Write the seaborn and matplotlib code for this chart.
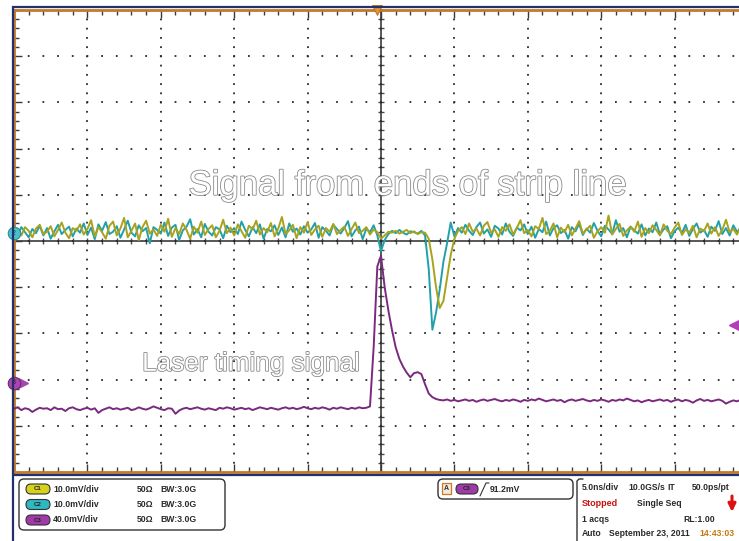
import numpy as np
import pandas as pd
import matplotlib
matplotlib.use("Agg")
import matplotlib.pyplot as plt
import seaborn as sns
from matplotlib.patches import FancyBboxPatch
from matplotlib.ticker import MultipleLocator
import matplotlib.patheffects as pe
import matplotlib.transforms as mtransforms

T_START, T_STOP, N_SAMPLES = -25.0, 25.0, 201   # ns, 5.0 ns/div, 10 div

c1_div = [
    0.18, 0.25, 0.12, 0.30, 0.22, 0.08, 0.27, 0.35, 0.15, 0.20, 0.32, 0.10, 0.24, 0.40, 0.18, 0.06, 0.28, 0.22, 0.36, 0.14,
    0.26, 0.45, 0.10, 0.30, 0.19, 0.05, 0.33, 0.42, 0.12, 0.27, 0.50, 0.08, 0.22, 0.38, 0.02, 0.30, 0.44, 0.16, 0.25, 0.11,
    0.35, 0.20, 0.48, 0.09, 0.28, 0.15, 0.38, 0.24, 0.05, 0.31, 0.18, 0.42, 0.13, 0.26, 0.34, 0.08, 0.22, 0.46, 0.17, 0.29,
    0.12, 0.36, 0.21, 0.07, 0.33, 0.25, 0.44, 0.14, 0.28, 0.19, 0.39, 0.10, 0.27, 0.52, 0.15, 0.23, 0.35, 0.06, 0.30, 0.18,
    0.41, 0.13, 0.25, 0.33, 0.09, 0.28, 0.20, 0.37, 0.15, 0.24, 0.31, 0.11, 0.26, 0.40, 0.17, 0.22, 0.30, 0.14, 0.25, 0.19,
    0.05, 0.12, 0.20, 0.18, 0.22, 0.16, 0.20, 0.24, 0.17, 0.21, 0.15, 0.19, 0.18, 0.05, -0.40, -1.00, -1.45, -1.30, -0.80, -0.30,
    0.05, 0.22, 0.30, 0.15, 0.38, 0.20, 0.27, 0.12, 0.33, 0.41, 0.18, 0.25, 0.09, 0.30, 0.22, 0.36, 0.14, 0.28, 0.45, 0.17,
    0.24, 0.10, 0.32, 0.26, 0.50, 0.15, 0.22, 0.38, 0.08, 0.29, 0.19, 0.35, 0.12, 0.27, 0.43, 0.16, 0.25, 0.33, 0.07, 0.21,
    0.30, 0.18, 0.55, 0.14, 0.26, 0.37, 0.11, 0.23, 0.31, 0.20, 0.42, 0.09, 0.28, 0.17, 0.34, 0.24, 0.12, 0.36, 0.22, 0.15,
    0.29, 0.40, 0.13, 0.25, 0.18, 0.33, 0.08, 0.27, 0.21, 0.38, 0.16, 0.30, 0.11, 0.24, 0.46, 0.19, 0.26, 0.14, 0.32, 0.20,
    0.23,
]

c2_div = [
    0.22, 0.14, 0.30, 0.19, 0.08, 0.26, 0.17, 0.33, 0.12, 0.28, 0.05, 0.21, 0.35, 0.15, 0.24, 0.31, 0.10, 0.27, 0.18, 0.38,
    0.13, 0.29, 0.04, 0.36, 0.22, 0.41, 0.15, 0.20, 0.32, 0.07, 0.25, 0.44, 0.18, 0.10, 0.34, 0.21, 0.28, -0.05, 0.30, 0.24,
    0.16, 0.40, 0.11, 0.29, 0.35, 0.02, 0.23, 0.31, 0.47, 0.14, 0.26, 0.08, 0.37, 0.20, 0.12, 0.30, 0.25, 0.06, 0.33, 0.19,
    0.28, 0.15, 0.42, 0.24, 0.10, 0.30, 0.17, 0.36, 0.05, 0.26, 0.21, 0.34, 0.13, 0.29, 0.08, 0.38, 0.20, 0.27, 0.14, 0.32,
    0.18, 0.25, 0.39, 0.07, 0.30, 0.22, 0.12, 0.35, 0.26, 0.16, 0.28, 0.43, 0.10, 0.23, 0.31, 0.04, 0.27, 0.19, 0.34, 0.12,
    -0.22, 0.02, 0.15, 0.22, 0.17, 0.24, 0.18, 0.14, 0.21, 0.19, 0.16, 0.22, 0.12, -0.60, -1.92, -1.55, -1.05, -0.45, -0.05, 0.40,
    0.10, 0.28, 0.18, 0.35, 0.22, 0.13, 0.30, 0.40, 0.16, 0.25, 0.09, 0.33, 0.27, 0.14, 0.38, 0.20, 0.11, 0.29, 0.23, 0.36,
    0.15, 0.31, 0.07, 0.26, 0.19, 0.42, 0.12, 0.28, 0.34, 0.17, 0.24, 0.05, 0.30, 0.21, 0.37, 0.13, 0.27, 0.18, 0.39, 0.22,
    0.10, 0.33, 0.25, 0.15, 0.45, 0.20, 0.28, 0.08, 0.31, 0.23, 0.16, 0.36, 0.12, 0.27, 0.19, 0.40, 0.14, 0.25, 0.32, 0.06,
    0.21, 0.29, 0.17, 0.35, 0.11, 0.26, 0.38, 0.18, 0.24, 0.09, 0.31, 0.22, 0.43, 0.15, 0.28, 0.12, 0.34, 0.20, 0.27, 0.16,
    0.30,
]

c3_div = [
    -3.63, -3.60, -3.66, -3.62, -3.64, -3.70, -3.65, -3.61, -3.63, -3.62, -3.66, -3.60, -3.64, -3.63, -3.68, -3.62, -3.60, -3.64, -3.66, -3.63,
    -3.61, -3.65, -3.62, -3.72, -3.66, -3.63, -3.60, -3.64, -3.62, -3.65, -3.63, -3.61, -3.66, -3.64, -3.60, -3.63, -3.65, -3.62, -3.58, -3.61,
    -3.64, -3.66, -3.62, -3.63, -3.74, -3.67, -3.63, -3.61, -3.64, -3.62, -3.60, -3.63, -3.65, -3.62, -3.64, -3.66, -3.61, -3.63, -3.60, -3.62,
    -3.65, -3.63, -3.61, -3.64, -3.62, -3.66, -3.63, -3.60, -3.62, -3.64, -3.61, -3.63, -3.65, -3.62, -3.60, -3.63, -3.61, -3.64, -3.62, -3.59,
    -3.62, -3.64, -3.61, -3.63, -3.60, -3.62, -3.65, -3.61, -3.63, -3.60, -3.62, -3.64, -3.61, -3.63, -3.60, -3.62, -3.61, -3.58, -2.30, -0.55,
    -0.32, -1.00, -1.50, -1.93, -2.30, -2.55, -2.72, -2.85, -2.95, -2.86, -2.84, -2.88, -3.10, -3.30, -3.38, -3.42, -3.44, -3.45, -3.43, -3.46,
    -3.44, -3.47, -3.45, -3.43, -3.46, -3.44, -3.48, -3.45, -3.43, -3.46, -3.44, -3.42, -3.45, -3.47, -3.44, -3.46, -3.43, -3.45, -3.48, -3.44,
    -3.46, -3.43, -3.45, -3.41, -3.44, -3.47, -3.45, -3.43, -3.46, -3.44, -3.49, -3.45, -3.43, -3.46, -3.44, -3.42, -3.45, -3.47, -3.44, -3.46,
    -3.43, -3.45, -3.48, -3.44, -3.46, -3.43, -3.45, -3.41, -3.44, -3.47, -3.45, -3.49, -3.46, -3.44, -3.47, -3.45, -3.43, -3.46, -3.44, -3.48,
    -3.45, -3.43, -3.47, -3.44, -3.46, -3.50, -3.45, -3.42, -3.46, -3.44, -3.47, -3.45, -3.43, -3.46, -3.52, -3.48, -3.45, -3.47, -3.44, -3.46,
    -3.45,
]

channels = ["C1", "C2", "C3"]
channel_colors = {"C1": "#A9A21C", "C2": "#22A0AA", "C3": "#7A2A7E"}
pill_colors = {"C1": "#D6D21C", "C2": "#2DB8C2", "C3": "#A03AA8"}
channel_scale = ["10.0mV/div", "10.0mV/div", "40.0mV/div"]
channel_imp = ["50\u03a9", "50\u03a9", "50\u03a9"]
channel_bw = ["BW:3.0G", "BW:3.0G", "BW:3.0G"]

c2_ground_div = 0.17
c3_ground_div = -3.07
trigger_level_div = -1.82
trigger_pos_ns = -0.3

annot_signal = "Signal from ends of strip line"
annot_laser = "Laser timing signal"

# ---------------- style ----------------
sns.set_style("white")
plt.rcParams["font.family"] = ["Liberation Sans", "DejaVu Sans"]
plt.rcParams["lines.scale_dashes"] = False

W, H = 739, 541
fig = plt.figure(figsize=(W / 100, H / 100), dpi=100, facecolor="white")

# plot area: x 14..748 px, y 10..472 px
ax = fig.add_axes([14 / W, 1 - 472 / H, 734 / W, 462 / H])
ax.set_facecolor("white")

t = np.linspace(T_START, T_STOP, N_SAMPLES)
df = pd.DataFrame({
    "t": np.concatenate([t, t, t]),
    "v": np.array(c1_div + c2_div + c3_div),
    "ch": ["C1"] * N_SAMPLES + ["C2"] * N_SAMPLES + ["C3"] * N_SAMPLES,
})

sns.lineplot(data=df, x="t", y="v", hue="ch", hue_order=["C3", "C2", "C1"],
             palette=channel_colors, estimator=None, sort=False, lw=1.4,
             legend=False, ax=ax, zorder=3)

ax.set_xlim(T_START, T_STOP)
ax.set_ylim(-5, 5)
ax.set_xlabel("")
ax.set_ylabel("")

# borders
orange = "#C27A2C"
for s in ["left", "top", "bottom"]:
    ax.spines[s].set_color(orange)
    ax.spines[s].set_linewidth(2.0)
    ax.spines[s].set_visible(True)
ax.spines["right"].set_visible(False)

ax.xaxis.set_major_locator(MultipleLocator(5))
ax.xaxis.set_minor_locator(MultipleLocator(1))
ax.yaxis.set_major_locator(MultipleLocator(1))
ax.yaxis.set_minor_locator(MultipleLocator(0.2))
ax.tick_params(which="both", direction="in", top=True, bottom=True, left=True,
               right=False, labelbottom=False, labelleft=False, labeltop=False,
               color="#3a3a3a", width=1.0)
ax.tick_params(which="major", length=6)
ax.tick_params(which="minor", length=3.5)

# dotted graticule
ax.set_axisbelow(True)
ax.xaxis.grid(True, which="major", color="#2a2a2a", lw=1.3,
              linestyle=(0.65, (1.3, 5.35)))
ax.yaxis.grid(True, which="major", color="#2a2a2a", lw=1.3,
              linestyle=(0.65, (1.3, 9.27)))

# center crosshair axes
center_col = "#4a4a4a"
sx = ax.secondary_xaxis(0.5)
sx.xaxis.set_major_locator(MultipleLocator(1))
sx.xaxis.set_minor_locator(MultipleLocator(1))
sx.tick_params(which="both", direction="inout", length=4.5, width=1.0,
               color=center_col, labeltop=False, labelbottom=False)
for sp in sx.spines.values():
    sp.set_color(center_col)
    sp.set_linewidth(1.3)

sy = ax.secondary_yaxis(0.5)
sy.yaxis.set_major_locator(MultipleLocator(0.2))
sy.yaxis.set_minor_locator(MultipleLocator(0.2))
sy.tick_params(which="both", direction="inout", length=4.5, width=1.0,
               color=center_col, labelleft=False, labelright=False)
for sp in sy.spines.values():
    sp.set_color(center_col)
    sp.set_linewidth(1.3)

# markers on the graticule edges
tl = mtransforms.blended_transform_factory(ax.transAxes, ax.transData)
tt = mtransforms.blended_transform_factory(ax.transData, ax.transAxes)
ax.plot([0], [c2_ground_div], marker="o", ms=9, color="#49C0CA", mec="#2A8A92",
        mew=0.8, transform=tl, clip_on=False, zorder=6)
ax.text(0, c2_ground_div, "2", transform=tl, fontsize=5, ha="center",
        va="center", color="#1a4a50", zorder=7, clip_on=False)
ax.plot([0.012], [c3_ground_div], marker=">", ms=7, color="#A845AE",
        transform=tl, clip_on=False, zorder=6)
ax.plot([0], [c3_ground_div], marker="o", ms=9, color="#A845AE", mec="#6a2a70",
        mew=0.8, transform=tl, clip_on=False, zorder=6)
ax.text(0, c3_ground_div, "3", transform=tl, fontsize=5, ha="center",
        va="center", color="#3a103a", zorder=7, clip_on=False)
ax.plot([(735 - 14) / 734], [trigger_level_div], marker="<", ms=8,
        color="#B040B8", transform=tl, clip_on=False, zorder=6)
ax.plot([trigger_pos_ns], [1.0], marker="v", ms=7, color="#E8962C",
        mec="#B06A20", mew=0.6, transform=tt, clip_on=False, zorder=6)

# annotations (outlined text)
outline = [pe.withStroke(linewidth=1.2, foreground="#8a8a8a")]
ax.text(1.84, 1.0, annot_signal, fontsize=25, color="white", ha="center",
        va="baseline", path_effects=outline, zorder=5)
ax.text(-8.86, -2.81, annot_laser, fontsize=18.8, color="white", ha="center",
        va="baseline", path_effects=outline, zorder=5)

# ---------------- overlay in pixel coordinates (frame + status bar) --------
ov = fig.add_axes([0, 0, 1, 1], zorder=10)
ov.set_xlim(0, W)
ov.set_ylim(H, 0)
ov.axis("off")
ov.patch.set_alpha(0)

navy = "#22306E"
ov.plot([12, W], [7, 7], color=navy, lw=1.6, solid_capstyle="butt")
ov.plot([12.5, 12.5], [6, H], color=navy, lw=1.6, solid_capstyle="butt")
ov.plot([12, W], [475, 475], color=navy, lw=1.6, solid_capstyle="butt")

FS = 6.2
txt = dict(fontsize=FS, fontweight="bold", color="#2a2a2a", va="center")

# channel box
ov.add_patch(FancyBboxPatch((19, 479), 206, 51,
                            boxstyle="round,pad=0,rounding_size=5",
                            fc="white", ec="#333333", lw=1.0))
rows_y = [489, 504.5, 520]
for ch, yc, sc, imp, bw in zip(channels, rows_y, channel_scale, channel_imp, channel_bw):
    ov.add_patch(FancyBboxPatch((26, yc - 5), 24, 10,
                                boxstyle="round,pad=0,rounding_size=5",
                                fc=pill_colors[ch], ec="#333333", lw=0.8))
    ov.text(38, yc, ch, fontsize=4.4, ha="center", va="center",
            color="#222222", fontweight="bold")
    ov.text(53, yc, sc, **txt)
    ov.text(137, yc, imp, **txt)
    ov.text(160, yc, bw, **txt)

# trigger box
ov.add_patch(FancyBboxPatch((438, 479), 135, 20,
                            boxstyle="round,pad=0,rounding_size=5",
                            fc="white", ec="#333333", lw=1.0))
ov.add_patch(FancyBboxPatch((442, 483), 9, 11, boxstyle="square,pad=0",
                            fc="#F4E8D8", ec="#C87A2C", lw=0.9))
ov.text(446.5, 488.8, "A", fontsize=5, ha="center", va="center",
        color="#333333", fontweight="bold")
ov.add_patch(FancyBboxPatch((456, 484), 22, 10,
                            boxstyle="round,pad=0,rounding_size=5",
                            fc=pill_colors["C3"], ec="#333333", lw=0.8))
ov.text(467, 489, "C3", fontsize=4.4, ha="center", va="center",
        color="#222222", fontweight="bold")
ov.plot([480, 486, 489], [496, 483, 483], color="#333333", lw=0.8)
ov.text(490, 489, "91.2mV", **txt)

# timebase / acquisition box
ov.plot([583, 579, 577, 577], [479, 479, 481, H], color="#333333", lw=1.0)
ov.text(582, 488, "5.0ns/div", **txt)
ov.text(628, 488, "10.0GS/s", **txt)
ov.text(667, 488, "IT", **txt)
ov.text(692, 488, "50.0ps/pt", **txt)
ov.text(582, 504, "Stopped", fontsize=FS + 0.3, fontweight="bold",
        color="#CC1111", va="center")
ov.text(637, 504, "Single Seq", **txt)
ov.annotate("", xy=(732, 512), xytext=(732, 496),
            arrowprops=dict(arrowstyle="-|>,head_length=0.45,head_width=0.22",
                            color="#DD1111", lw=2.2, mutation_scale=10,
                            shrinkA=0, shrinkB=0))
ov.text(582, 520, "1 acqs", **txt)
ov.text(683, 520, "RL:1.00", **txt)
ov.text(582, 534, "Auto", **txt)
ov.text(609, 534, "September 23, 2011", **txt)
ov.text(699, 534, "14:43:03", fontsize=FS, fontweight="bold", color="#C87810",
        va="center")

fig.savefig("out.png", dpi=100, facecolor="white")
